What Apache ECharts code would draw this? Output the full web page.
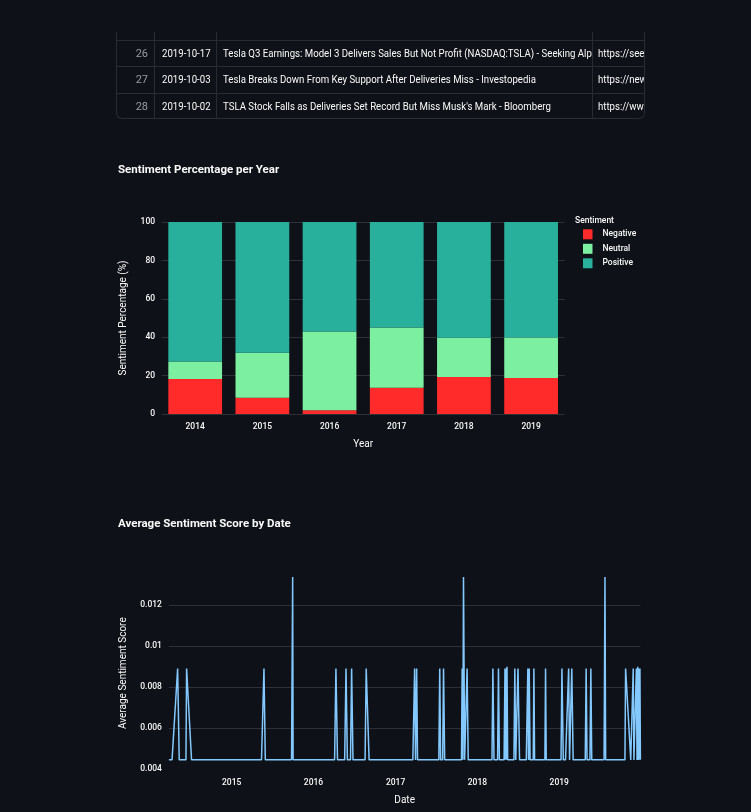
<!DOCTYPE html>
<html>
<head>
<meta charset="utf-8">
<script src="https://cdn.jsdelivr.net/npm/echarts@6/dist/echarts.min.js"></script>
<style>
  html,body{margin:0;padding:0;background:#0e1117;width:751px;height:812px;overflow:hidden;}
  #main{position:absolute;left:0;top:0;width:751px;height:812px;}
  #tbl{position:absolute;left:116px;top:32px;width:529px;height:87px;overflow:hidden;
       border:1px solid #2a2c33;border-top:none;border-radius:0 0 6px 6px;box-sizing:border-box;z-index:2;
       font-family:Roboto,"Noto Sans",sans-serif;font-size:11px;color:#fafafa;}
  .row{position:absolute;left:0;width:100%;height:26.4px;border-bottom:1px solid #2a2c33;box-sizing:border-box;}
  .cell{position:absolute;top:0;height:100%;line-height:25.4px;white-space:nowrap;overflow:hidden;box-sizing:border-box;border-right:1px solid #2a2c33;}
  .c0{left:0;width:38px;text-align:right;padding-right:6px;color:#9a9ca3;}
  .c1{left:38px;width:61.5px;padding-left:6.5px;}
  .c2{left:99.5px;width:376px;padding-left:6px;}
  .c3{left:475.5px;width:60px;padding-left:5.5px;border-right:none;}
  .sx{display:inline-block;transform:scaleX(0.875);transform-origin:0 50%;}
</style>
</head>
<body>
<div id="main"></div>
<div id="tbl"></div>
<script>
// ---- table rows (visible part) ----
const tableIndex = ['25', '26', '27', '28'];
const tableDates = ['', '2019-10-17', '2019-10-03', '2019-10-02'];
const tableTitles = ['',
  'Tesla Q3 Earnings: Model 3 Delivers Sales But Not Profit (NASDAQ:TSLA) - Seeking Alpha',
  'Tesla Breaks Down From Key Support After Deliveries Miss - Investopedia',
  "TSLA Stock Falls as Deliveries Set Record But Miss Musk's Mark - Bloomberg"];
const tableUrls = ['', 'https://seekingalpha.com/', 'https://news.google.com/', 'https://www.bloomberg.com/'];

// ---- bar chart data ----
const years = ['2014', '2015', '2016', '2017', '2018', '2019'];
const negativePct = [18.2, 8.4, 1.9, 13.7, 19.3, 18.8];
const neutralPct = [9.1, 23.5, 41.1, 31.4, 20.4, 21.1];
const positivePct = [72.7, 68.1, 57.0, 54.9, 60.3, 60.1];

// ---- line chart data ----
const scoreDates = [
  '2014-03-27','2014-04-10','2014-05-05','2014-05-12','2014-06-11','2014-06-14','2014-07-06',
  '2015-05-14','2015-05-25','2015-05-31','2015-09-25','2015-09-30','2015-10-02',
  '2016-04-04','2016-04-10','2016-04-17','2016-05-19','2016-05-25','2016-05-31',
  '2016-06-14','2016-06-19','2016-06-25','2016-08-18','2016-08-23','2016-09-05',
  '2017-03-19','2017-03-27','2017-03-31','2017-04-05','2017-04-09',
  '2017-07-13','2017-07-17','2017-07-21','2017-07-30','2017-08-03','2017-08-08',
  '2017-10-22','2017-10-25','2017-10-28','2017-10-31','2017-11-05','2017-11-12','2017-11-16','2017-11-21',
  '2018-03-07','2018-03-11','2018-03-16','2018-04-01','2018-04-05','2018-04-09',
  '2018-04-30','2018-05-04','2018-05-06','2018-05-08','2018-05-10','2018-05-13','2018-05-16',
  '2018-06-13','2018-06-17','2018-06-21','2018-06-27','2018-07-01','2018-07-08',
  '2018-08-07','2018-08-14','2018-08-17','2018-08-20','2018-08-24',
  '2018-09-07','2018-09-10','2018-09-13','2018-10-29','2018-11-01','2018-11-04',
  '2019-01-09','2019-01-13','2019-01-19','2019-01-29','2019-02-12','2019-02-16',
  '2019-02-22','2019-02-26','2019-03-04','2019-04-27','2019-05-01','2019-05-05',
  '2019-05-18','2019-05-22','2019-05-26','2019-07-20','2019-07-24','2019-07-27',
  '2019-10-21','2019-10-24','2019-11-16','2019-11-22','2019-11-27','2019-11-30',
  '2019-12-08','2019-12-11','2019-12-14','2019-12-17','2019-12-20','2019-12-23','2019-12-25','2019-12-27','2019-12-29'
];
const scoreValues = [
  0.00446,0.00446,0.00892,0.00446,0.00446,0.00892,0.00446,
  0.00446,0.00892,0.00446,0.00446,0.01338,0.00446,
  0.00446,0.00892,0.00446,0.00446,0.00892,0.00446,
  0.00446,0.00892,0.00446,0.00446,0.00892,0.00446,
  0.00446,0.00892,0.00446,0.00892,0.00446,
  0.00446,0.00892,0.00446,0.00446,0.00892,0.00446,
  0.00446,0.00892,0.00446,0.01338,0.00446,0.00446,0.00892,0.00446,
  0.00446,0.00892,0.00446,0.00446,0.00892,0.00446,
  0.00446,0.00892,0.00446,0.00892,0.00446,0.00900,0.00446,
  0.00446,0.00892,0.00446,0.00446,0.00892,0.00446,
  0.00446,0.00892,0.00446,0.00892,0.00446,
  0.00446,0.00892,0.00446,0.00446,0.00892,0.00446,
  0.00446,0.00892,0.00446,0.00446,0.00892,0.00446,
  0.00446,0.00892,0.00446,0.00446,0.00892,0.00446,
  0.00446,0.00892,0.00446,0.00446,0.01338,0.00446,
  0.00446,0.00892,0.00446,0.00446,0.00892,0.00446,
  0.00446,0.00892,0.00446,0.00900,0.00446,0.00892,0.00446,0.00892,0.00446
];
const dateTickYears = [2015, 2016, 2017, 2018, 2019];

// ---- build table ----
(function(){
  const t = document.getElementById('tbl');
  const rowH = 26.4, firstTop = 9 - rowH;
  tableIndex.forEach((idx, i) => {
    const r = document.createElement('div');
    r.className = 'row';
    r.style.top = (firstTop + i * rowH) + 'px';
    if (i === tableIndex.length - 1) r.style.borderBottom = 'none';
    r.innerHTML =
      '<div class="cell c0">' + (i ? idx : '') + '</div>' +
      '<div class="cell c1"><span class="sx">' + tableDates[i] + '</span></div>' +
      '<div class="cell c2"><span class="sx">' + tableTitles[i] + '</span></div>' +
      '<div class="cell c3"><span class="sx">' + tableUrls[i] + '</span></div>';
    t.appendChild(r);
  });
})();

const FONT = 'Roboto';
const TXT = '#fafafa';
const GRID = '#2e3038';

function toTime(s) {
  const p = s.split('-').map(Number);
  return new Date(p[0], p[1] - 1, p[2]).getTime();
}

const chart = echarts.init(document.getElementById('main'), null, {renderer: 'canvas'});
const lineData = scoreDates.map((d, i) => [toTime(d), scoreValues[i]]);
const yearStarts = dateTickYears.map(y => new Date(y, 0, 1).getTime());
const tick = {color: TXT, fontSize: 8.5, fontFamily: FONT, fontWeight: 500};

chart.setOption({
  animation: false,
  backgroundColor: 'transparent',
  textStyle: {fontFamily: FONT},
  title: [
    {text: 'Sentiment Percentage per Year', left: 118, top: 164, padding: 0,
     textStyle: {fontFamily: FONT, fontWeight: 'bold', fontSize: 11.5, color: TXT}},
    {text: 'Average Sentiment Score by Date', left: 118, top: 518, padding: 0,
     textStyle: {fontFamily: FONT, fontWeight: 'bold', fontSize: 11.5, color: TXT}},
    {text: 'Sentiment', left: 575, top: 216, padding: 0,
     textStyle: {fontFamily: FONT, fontWeight: 500, fontSize: 8.5, color: TXT}}
  ],
  legend: {
    orient: 'vertical', left: 583, top: 229.3, padding: 0,
    icon: 'rect', itemWidth: 9.5, itemHeight: 10, itemGap: 4.5,
    data: ['Negative', 'Neutral', 'Positive'],
    textStyle: {fontFamily: FONT, fontSize: 8.5, fontWeight: 500, color: TXT, lineHeight: 10, padding: [0, 0, 0, 5]}
  },
  grid: [
    {left: 161.6, right: 186.3, top: 222, bottom: 398, containLabel: false},
    {left: 168.9, right: 110.6, top: 577, bottom: 42.7, containLabel: false}
  ],
  xAxis: [
    {type: 'category', gridIndex: 0, data: years,
     axisLine: {show: false}, axisTick: {show: false},
     axisLabel: Object.assign({margin: 8.5}, tick),
     name: 'Year', nameLocation: 'middle', nameGap: 25,
     nameTextStyle: {color: TXT, fontSize: 10, fontFamily: FONT}},
    {type: 'value', gridIndex: 1, scale: true,
     min: lineData[0][0], max: lineData[lineData.length - 1][0],
     axisLine: {show: false}, axisTick: {show: false}, splitLine: {show: false},
     axisLabel: Object.assign({margin: 9, customValues: yearStarts,
                 formatter: v => String(new Date(v).getFullYear())}, tick),
     name: 'Date', nameLocation: 'middle', nameGap: 26,
     nameTextStyle: {color: TXT, fontSize: 10, fontFamily: FONT}}
  ],
  yAxis: [
    {type: 'value', gridIndex: 0, min: 0, max: 100, interval: 20,
     axisLine: {show: false}, axisTick: {show: false},
     splitLine: {lineStyle: {color: GRID, width: 1}},
     axisLabel: Object.assign({margin: 6.5}, tick),
     name: 'Sentiment Percentage (%)', nameLocation: 'middle', nameGap: 33, nameRotate: 90,
     nameTextStyle: {color: TXT, fontSize: 10, fontFamily: FONT}},
    {type: 'value', gridIndex: 1, min: 0.004, max: 0.01338, interval: 0.002,
     axisLine: {show: false}, axisTick: {show: false},
     splitLine: {show: true, showMinLine: false, showMaxLine: false, lineStyle: {color: GRID, width: 1}},
     axisLabel: Object.assign({margin: 7, showMaxLabel: false,
                 formatter: v => String(+(+v).toFixed(3))}, tick),
     name: 'Average Sentiment Score', nameLocation: 'middle', nameGap: 40, nameRotate: 90,
     nameTextStyle: {color: TXT, fontSize: 10, fontFamily: FONT}}
  ],
  series: [
    {name: 'Negative', type: 'bar', stack: 'total', xAxisIndex: 0, yAxisIndex: 0,
     barWidth: '80%', data: negativePct, itemStyle: {color: '#ff2b2b'}},
    {name: 'Neutral', type: 'bar', stack: 'total', xAxisIndex: 0, yAxisIndex: 0,
     barWidth: '80%', data: neutralPct, itemStyle: {color: '#7defa1'}},
    {name: 'Positive', type: 'bar', stack: 'total', xAxisIndex: 0, yAxisIndex: 0,
     barWidth: '80%', data: positivePct, itemStyle: {color: '#29b09d'}},
    {name: 'Average Sentiment Score', type: 'line', xAxisIndex: 1, yAxisIndex: 1,
     data: lineData, showSymbol: false, symbol: 'none',
     lineStyle: {color: '#83c9ff', width: 1.5}, itemStyle: {color: '#83c9ff'}}
  ]
});
</script>
</body>
</html>
